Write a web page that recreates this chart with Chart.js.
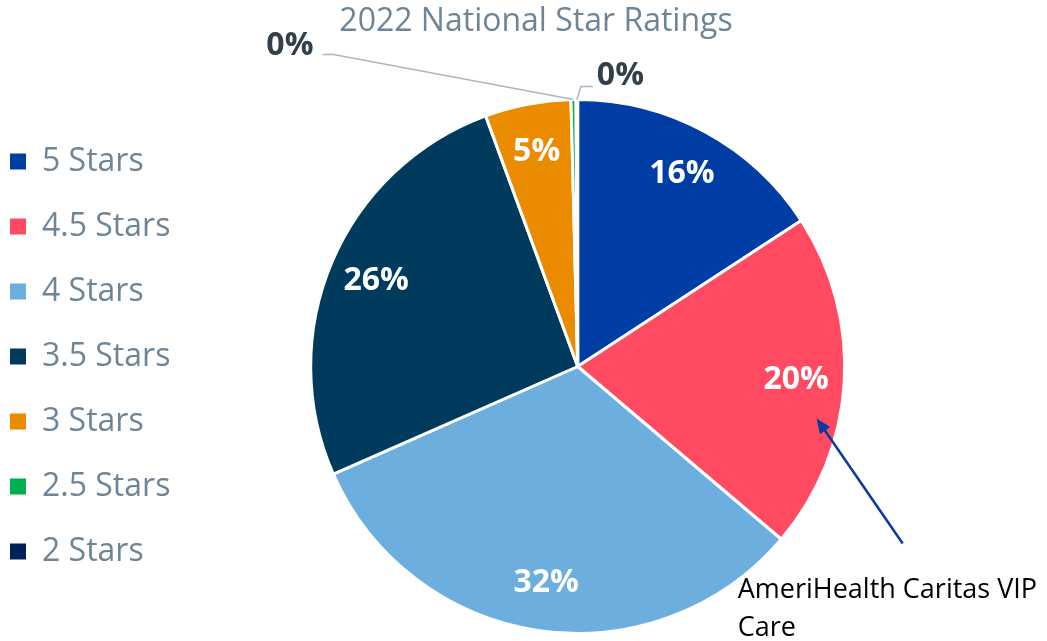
<!DOCTYPE html>
<html>
<head>
<meta charset="utf-8">
<title>2022 National Star Ratings</title>
<script src="https://cdn.jsdelivr.net/npm/chart.js@4.4.0/dist/chart.umd.min.js"></script>
<style>
    html, body { margin: 0; padding: 0; background: #ffffff; }
    #chartBox { width: 1047px; height: 641px; position: relative; }
</style>
</head>
<body>
<div id="chartBox"><canvas id="StarRatings"></canvas></div>
<script>
// Data block
const ratingLabels = ['5 Stars', '4.5 Stars', '4 Stars', '3.5 Stars', '3 Stars', '2.5 Stars', '2 Stars'];
const ratingShares = [15.8, 20.4, 32.2, 26.0, 5.2, 0.3, 0.1];
const ratingColors = ['#003DA5', '#FF4A62', '#6CAEDD', '#003A5C', '#EA8B00', '#00B050', '#00205B'];
const chartTitle = '2022 National Star Ratings';
const calloutLines = ['AmeriHealth Caritas VIP', 'Care'];
const calloutSlice = 1;  // 4.5 Stars

Chart.defaults.font.family = "'Open Sans', sans-serif";

// Title + slice labels + callout plugin block
const starLabels = {
    id: 'starLabels',
    afterDatasetsDraw(chart) {
        const ctx = chart.ctx;
        const meta = chart.getDatasetMeta(0);
        const total = ratingShares.reduce((a, b) => a + b, 0);
        ctx.save();

        // Title
        ctx.font = "32px 'Open Sans'";
        ctx.fillStyle = '#6E8598';
        ctx.textAlign = 'center';
        ctx.textBaseline = 'middle';
        ctx.fillText(chartTitle, 536, 22);

        // leader offsets for the tiny slices (relative to the arc edge)
        const outside = {
            5: {pts: [[-240, -45], [-251, -45]], text: [-260, -54], align: 'right'},
            6: {pts: [[4, -13], [16, -13]], text: [20, -24], align: 'left'}
        };

        meta.data.forEach((arc, i) => {
            const p = arc.getProps(['x', 'y', 'startAngle', 'endAngle', 'outerRadius'], true);
            const mid = (p.startAngle + p.endAngle) / 2;
            const pct = Math.round(ratingShares[i] / total * 100) + '%';
            ctx.font = "bold 32px 'Open Sans'";
            ctx.textBaseline = 'middle';
            if (outside[i]) {
                const ax = p.x + Math.cos(mid) * p.outerRadius;
                const ay = p.y + Math.sin(mid) * p.outerRadius;
                const o = outside[i];
                ctx.strokeStyle = '#A9B7C4';
                ctx.lineWidth = 1.5;
                ctx.beginPath();
                ctx.moveTo(ax, ay);
                o.pts.forEach(pt => ctx.lineTo(ax + pt[0], ay + pt[1]));
                ctx.stroke();
                ctx.fillStyle = '#333F4A';
                ctx.textAlign = o.align;
                ctx.fillText(pct, ax + o.text[0], ay + o.text[1]);
            } else {
                const r = p.outerRadius * 0.82;
                ctx.fillStyle = '#ffffff';
                ctx.textAlign = 'center';
                ctx.fillText(pct, p.x + Math.cos(mid) * r, p.y + Math.sin(mid) * r);
            }
        });

        // Callout arrow and text
        const c = meta.data[calloutSlice].getProps(['x', 'y'], true);
        const tail = [c.x + 325, c.y + 177];
        const head = [c.x + 239, c.y + 52];
        const ang = Math.atan2(head[1] - tail[1], head[0] - tail[0]);
        ctx.strokeStyle = '#0A3A9E';
        ctx.fillStyle = '#0A3A9E';
        ctx.lineWidth = 2.5;
        ctx.beginPath();
        ctx.moveTo(tail[0], tail[1]);
        ctx.lineTo(head[0] - Math.cos(ang) * 10, head[1] - Math.sin(ang) * 10);
        ctx.stroke();
        ctx.beginPath();
        ctx.moveTo(head[0], head[1]);
        ctx.lineTo(head[0] - Math.cos(ang - 0.4) * 16, head[1] - Math.sin(ang - 0.4) * 16);
        ctx.lineTo(head[0] - Math.cos(ang + 0.4) * 16, head[1] - Math.sin(ang + 0.4) * 16);
        ctx.closePath();
        ctx.fill();

        ctx.font = "27px 'Open Sans'";
        ctx.fillStyle = '#000000';
        ctx.textAlign = 'left';
        calloutLines.forEach((line, k) => {
            ctx.fillText(line, c.x + 160, c.y + 224 + k * 38);
        });
        ctx.restore();
    }
};

// Config block
const starConfig = {
    type: 'pie',
    data: {
        labels: ratingLabels,
        datasets: [{
            data: ratingShares,
            backgroundColor: ratingColors,
            borderColor: '#ffffff',
            borderWidth: 3,
        }]
    },
    options: {
        responsive: true,
        maintainAspectRatio: false,
        animation: false,
        layout: {
            padding: {top: 98, bottom: 6, left: -23, right: 72}
        },
        plugins: {
            legend: {
                position: 'left',
                align: 'start',
                onClick: null,
                // empty title used only as a spacer above the items
                title: {display: true, text: '', font: {size: 12, lineHeight: 1.2}, padding: 0},
                labels: {
                    boxWidth: 16,
                    boxHeight: 16,
                    padding: 33,
                    color: '#6E8598',
                    font: {size: 32},
                    generateLabels(chart) {
                        return Chart.overrides.pie.plugins.legend.labels.generateLabels(chart)
                            .map(l => Object.assign(l, {lineWidth: 0, strokeStyle: l.fillStyle}));
                    }
                }
            },
            tooltip: {enabled: false}
        }
    },
    plugins: [starLabels]
};

const starChart = new Chart(document.getElementById('StarRatings'), starConfig);
</script>
</body>
</html>
